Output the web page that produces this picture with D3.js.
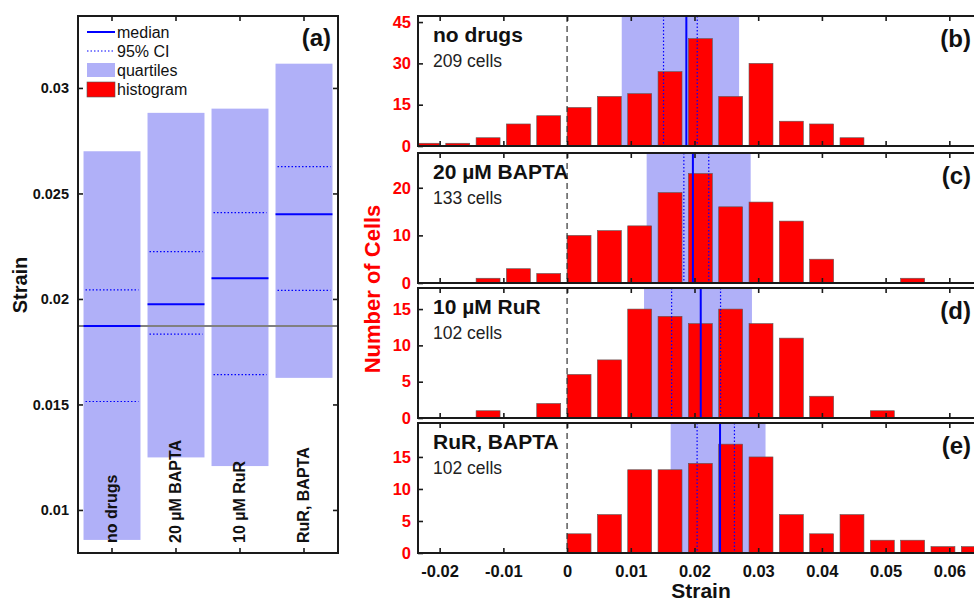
<!DOCTYPE html>
<html>
<head>
<meta charset="utf-8">
<script src="https://cdn.jsdelivr.net/npm/d3@7"></script>
<style>
  html, body { margin: 0; padding: 0; background: #fff; overflow: hidden; }
  svg { display: block; font-family: "Liberation Sans", Arial, Helvetica, sans-serif; }
</style>
</head>
<body>
<svg id="chart" width="974" height="601"></svg>
<script>
// ---- data ----
var groups = ['no drugs', '20 µM BAPTA', '10 µM RuR', 'RuR, BAPTA'];
var panelTags = ['(b)', '(c)', '(d)', '(e)'];
var cellCounts = [209, 133, 102, 102];

// quartiles, medians and 95% CI of strain per group
var q1 = [0.00858, 0.01249, 0.01208, 0.01626];
var q3 = [0.02700, 0.02882, 0.02902, 0.03115];
var medians = [0.01872, 0.01975, 0.02098, 0.02401];
var ciLow = [0.01514, 0.01833, 0.01641, 0.02041];
var ciHigh = [0.02043, 0.02224, 0.02409, 0.02627];

// histogram bins: bin k covers [k*binWidth, (k+1)*binWidth), k from firstBin
var binWidth = 0.00476;
var firstBin = -5;
var countsNoDrugs = [1, 1, 3, 8, 11, 14, 18, 19, 27, 39, 18, 30, 9, 8, 3, 0, 0, 0, 0];
var countsBapta   = [0, 0, 1, 3, 2, 10, 11, 12, 19, 23, 16, 17, 13, 5, 0, 0, 1, 0, 0];
var countsRuR     = [0, 0, 1, 0, 2, 6, 8, 15, 14, 13, 15, 13, 11, 3, 0, 1, 0, 0, 0];
var countsBoth    = [0, 0, 0, 0, 0, 3, 6, 13, 13, 14, 17, 15, 6, 3, 6, 2, 2, 1, 1];
var histCounts = [countsNoDrugs, countsBapta, countsRuR, countsBoth];

var countMax = [47.2, 27.3, 17.9, 20.3];
var countTicks = [[0, 15, 30, 45], [0, 10, 20], [0, 5, 10, 15], [0, 5, 10, 15]];
var strainTicksA = [0.01, 0.015, 0.02, 0.025, 0.03];
var strainTicksB = [-0.02, -0.01, 0, 0.01, 0.02, 0.03, 0.04, 0.05, 0.06];
var legendLabels = ['median', '95% CI', 'quartiles', 'histogram'];

var color = {
  quart: '#b0b0f8',
  median: '#0000ff',
  hist: '#ff0000',
  frame: '#1a1a1a'
};

var svg = d3.select('#chart');

function fmt(d) { return String(d); }

function styleAxis(a) {
  a.select('.domain').remove();
  a.selectAll('.tick line').attr('stroke', color.frame).attr('stroke-width', 1.6);
}

// ================= panel (a) =================
function drawSummary() {
  var L = 78, R = 338, T = 16, B = 553;
  var y = d3.scaleLinear().domain([0.00796, 0.03341]).range([B, T]);
  var x = d3.scaleBand().domain(groups).range([80, 336]).paddingInner(0.11).paddingOuter(0.055);
  var g = svg.append('g');

  g.selectAll('rect.q').data(groups).enter().append('rect')
    .attr('x', function(d) { return x(d); })
    .attr('width', x.bandwidth())
    .attr('y', function(d, i) { return y(q3[i]); })
    .attr('height', function(d, i) { return y(q1[i]) - y(q3[i]); })
    .attr('fill', color.quart);

  // reference line at the no-drugs median
  g.append('line').attr('x1', L).attr('x2', R)
    .attr('y1', y(medians[0])).attr('y2', y(medians[0]))
    .attr('stroke', '#808080').attr('stroke-width', 2);

  [ciLow, ciHigh].forEach(function(arr) {
    g.selectAll(null).data(groups).enter().append('line')
      .attr('x1', function(d) { return x(d) + 2; })
      .attr('x2', function(d) { return x(d) + x.bandwidth() - 2; })
      .attr('y1', function(d, i) { return y(arr[i]); })
      .attr('y2', function(d, i) { return y(arr[i]); })
      .attr('stroke', color.median).attr('stroke-width', 1.2).attr('stroke-dasharray', '1.5,2');
  });

  g.selectAll(null).data(groups).enter().append('line')
    .attr('x1', function(d) { return x(d); })
    .attr('x2', function(d) { return x(d) + x.bandwidth(); })
    .attr('y1', function(d, i) { return y(medians[i]); })
    .attr('y2', function(d, i) { return y(medians[i]); })
    .attr('stroke', color.median).attr('stroke-width', 2);

  // axes with inward ticks
  var left = g.append('g').attr('transform', 'translate(' + L + ',0)')
    .call(d3.axisLeft(y).tickValues(strainTicksA).tickFormat(fmt).tickSize(-5).tickPadding(9));
  var right = g.append('g').attr('transform', 'translate(' + R + ',0)')
    .call(d3.axisRight(y).tickValues(strainTicksA).tickSize(-5).tickFormat(''));
  var top = g.append('g').attr('transform', 'translate(0,' + T + ')')
    .call(d3.axisTop(x).tickSize(-5).tickFormat(''));
  var bottom = g.append('g').attr('transform', 'translate(0,' + B + ')')
    .call(d3.axisBottom(x).tickSize(-5).tickFormat(''));
  [left, right, top, bottom].forEach(styleAxis);
  left.selectAll('.tick text').attr('font-size', 14.5).attr('font-weight', 'bold').attr('fill', '#111');

  g.append('rect').attr('x', L).attr('y', T).attr('width', R - L).attr('height', B - T)
    .attr('fill', 'none').attr('stroke', color.frame).attr('stroke-width', 2);

  // rotated group names
  g.selectAll('text.cat').data(groups).enter().append('text')
    .attr('transform', function(d) { return 'translate(' + (x(d) + x.bandwidth() / 2 + 5) + ',543) rotate(-90)'; })
    .attr('font-size', 16).attr('font-weight', 'bold').attr('fill', '#111')
    .text(function(d) { return d; });

  g.append('text').attr('transform', 'translate(27,285) rotate(-90)')
    .attr('text-anchor', 'middle').attr('font-size', 20).attr('font-weight', 'bold').attr('fill', '#111')
    .text('Strain');

  g.append('text').attr('x', 331).attr('y', 46).attr('text-anchor', 'end')
    .attr('font-size', 24).attr('font-weight', 'bold').attr('fill', '#111').text('(a)');

  // legend
  var lg = g.append('g').attr('font-size', 16).attr('fill', '#111');
  lg.append('line').attr('x1', 87).attr('x2', 115).attr('y1', 32).attr('y2', 32)
    .attr('stroke', color.median).attr('stroke-width', 2);
  lg.append('line').attr('x1', 87).attr('x2', 115).attr('y1', 51).attr('y2', 51)
    .attr('stroke', color.median).attr('stroke-width', 1.2).attr('stroke-dasharray', '1.5,2');
  lg.append('rect').attr('x', 87).attr('y', 63).attr('width', 28).attr('height', 14).attr('fill', color.quart);
  lg.append('rect').attr('x', 87).attr('y', 82).attr('width', 28).attr('height', 15)
    .attr('fill', color.hist).attr('stroke', '#555').attr('stroke-width', 0.6);
  lg.selectAll('text').data(legendLabels).enter().append('text')
    .attr('x', 117).attr('y', function(d, i) { return 38 + i * 19; })
    .text(function(d) { return d; });
}

// ================= panels (b)-(e) =================
function drawHistograms() {
  var L = 418, R = 985;
  var tops = [16, 153, 288, 423];
  var panelH = 130;
  var x = d3.scaleLinear().domain([-0.0234, 0.0656]).range([L, R]);
  var bins = d3.range(countsNoDrugs.length).map(function(i) { return (firstBin + i) * binWidth; });

  groups.forEach(function(name, p) {
    var T = tops[p], B = T + panelH;
    var y = d3.scaleLinear().domain([0, countMax[p]]).range([B, T]);
    var g = svg.append('g');
    var clipId = 'clip' + p;
    svg.append('clipPath').attr('id', clipId).append('rect')
      .attr('x', L).attr('y', T).attr('width', R - L).attr('height', panelH);
    var inner = g.append('g').attr('clip-path', 'url(#' + clipId + ')');

    inner.append('rect').attr('x', x(q1[p])).attr('width', x(q3[p]) - x(q1[p]))
      .attr('y', T).attr('height', panelH).attr('fill', color.quart);

    var barData = histCounts[p]
      .map(function(c, i) { return { start: bins[i], count: c }; })
      .filter(function(d) { return d.count > 0; });
    inner.selectAll('rect.bar').data(barData).enter().append('rect')
      .attr('class', 'bar')
      .attr('x', function(d) { return x(d.start); })
      .attr('width', function(d) { return x(d.start + binWidth * 0.79) - x(d.start); })
      .attr('y', function(d) { return y(d.count); })
      .attr('height', function(d) { return B - y(d.count); })
      .attr('fill', color.hist).attr('stroke', '#5a5a5a').attr('stroke-width', 0.6);

    // zero line
    inner.append('line').attr('x1', x(0)).attr('x2', x(0)).attr('y1', T).attr('y2', B)
      .attr('stroke', '#333').attr('stroke-width', 1.2).attr('stroke-dasharray', '6,4');

    [ciLow[p], ciHigh[p]].forEach(function(v) {
      inner.append('line').attr('x1', x(v)).attr('x2', x(v)).attr('y1', T).attr('y2', B)
        .attr('stroke', color.median).attr('stroke-width', 1.2).attr('stroke-dasharray', '1.5,2');
    });
    inner.append('line').attr('x1', x(medians[p])).attr('x2', x(medians[p])).attr('y1', T).attr('y2', B)
      .attr('stroke', color.median).attr('stroke-width', 2);

    // axes
    var left = g.append('g').attr('transform', 'translate(' + L + ',0)')
      .call(d3.axisLeft(y).tickValues(countTicks[p]).tickFormat(fmt).tickSize(-5).tickPadding(7));
    var top = g.append('g').attr('transform', 'translate(0,' + T + ')')
      .call(d3.axisTop(x).tickValues(strainTicksB).tickSize(-5).tickFormat(''));
    var bottom = g.append('g').attr('transform', 'translate(0,' + B + ')')
      .call(d3.axisBottom(x).tickValues(strainTicksB).tickSize(-5).tickPadding(12)
        .tickFormat(p === 3 ? fmt : ''));
    [left, top, bottom].forEach(styleAxis);
    left.selectAll('.tick text').attr('font-size', 16.5).attr('font-weight', 'bold').attr('fill', color.hist);
    bottom.selectAll('.tick text').attr('font-size', 16.5).attr('font-weight', 'bold').attr('fill', '#111');

    g.append('rect').attr('x', L).attr('y', T).attr('width', R - L).attr('height', panelH)
      .attr('fill', 'none').attr('stroke', color.frame).attr('stroke-width', 2);

    g.append('text').attr('x', 433).attr('y', T + 26)
      .attr('font-size', 21).attr('font-weight', 'bold').attr('fill', '#111').text(name);
    g.append('text').attr('x', 433).attr('y', T + 50.5)
      .attr('font-size', 17.5).attr('fill', '#222').text(cellCounts[p] + ' cells');
    g.append('text').attr('x', 971).attr('y', T + 31).attr('text-anchor', 'end')
      .attr('font-size', 24).attr('font-weight', 'bold').attr('fill', '#111').text(panelTags[p]);
  });

  svg.append('text').attr('x', 701).attr('y', 598).attr('text-anchor', 'middle')
    .attr('font-size', 21).attr('font-weight', 'bold').attr('fill', '#111').text('Strain');
  svg.append('text').attr('transform', 'translate(380,289) rotate(-90)').attr('text-anchor', 'middle')
    .attr('font-size', 22).attr('font-weight', 'bold').attr('fill', color.hist).text('Number of Cells');
}

drawSummary();
drawHistograms();
</script>
</body>
</html>
